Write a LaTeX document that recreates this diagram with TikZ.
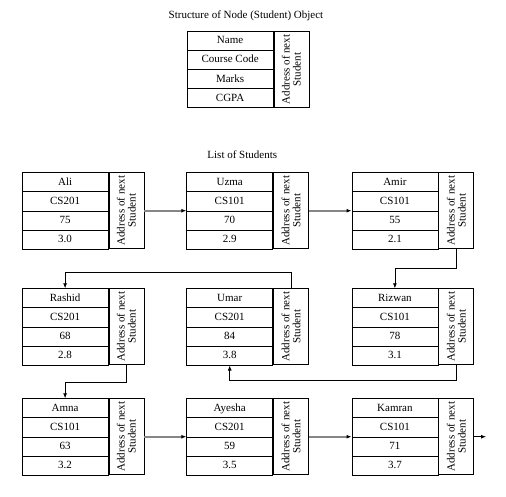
\documentclass[tikz,border=0pt]{standalone}
\usepackage{fontspec}
\setmainfont{Liberation Serif}
\usetikzlibrary{arrows,arrows.meta,shapes.multipart}
\tikzset{>=latex}
% one row of a record is about 19pt high
\newcommand{\rowstrut}{\rule[-6.3pt]{0pt}{18.3pt}}
\newcommand{\record}[4]{\rowstrut#1\nodepart{two}\rowstrut#2\nodepart{three}\rowstrut#3\nodepart{four}\rowstrut#4}

\begin{document}
\begin{tikzpicture}[x=1pt,y=1pt]
  % rec = fields of one student, ptr = address cell (rotated), link = next pointer
  \tikzstyle{every node}=[font=\fontsize{11}{11}\selectfont]
  \tikzstyle{rec}=[rectangle split, rectangle split parts=4, rectangle split draw splits,
    draw=black, line width=0.8pt, minimum width=86pt, inner xsep=0pt, inner ysep=0pt,
    rectangle split part align=center, anchor=north west]
  \tikzstyle{ptr}=[draw=black, line width=0.8pt, rotate=90, minimum width=76pt,
    minimum height=35pt, inner sep=0pt, align=center, anchor=north east]
  \tikzstyle{link}=[black, line width=0.8pt, -{Latex[length=5pt,width=4pt]}]
  \tikzstyle{thick link}=[draw=gray!95, line width=1.6pt, -{Latex[black,length=5pt,width=4pt]}]
  \useasboundingbox (0,0) rectangle (506,-496);

  \node (title) at (246,-16) {Structure of Node (Student) Object};
  \node[rec] (node) at (186.7,-31) {\record{Name}{Course Code}{Marks}{CGPA}};
  \node[ptr] (nodeP) at (node.north east) {Address of next\\Student};

  \node (list) at (242.3,-155) {List of Students};

  % first row
  \node[rec] (ali) at (21.7,-172.3) {\record{Ali}{CS201}{75}{3.0}};
  \node[ptr] (aliP) at (ali.north east) {Address of next\\Student};
  \node[rec] (uzma) at (186.3,-172.3) {\record{Uzma}{CS101}{70}{2.9}};
  \node[ptr] (uzmaP) at (uzma.north east) {Address of next\\Student};
  \node[rec] (amir) at (351.5,-172.3) {\record{Amir}{CS101}{55}{2.1}};
  \node[ptr] (amirP) at (amir.north east) {Address of next\\Student};

  % second row
  \node[rec] (rashid) at (21.7,-288.3) {\record{Rashid}{CS201}{68}{2.8}};
  \node[ptr] (rashidP) at (rashid.north east) {Address of next\\Student};
  \node[rec] (umar) at (186.3,-288.3) {\record{Umar}{CS201}{84}{3.8}};
  \node[ptr] (umarP) at (umar.north east) {Address of next\\Student};
  \node[rec] (rizwan) at (351.5,-288.3) {\record{Rizwan}{CS101}{78}{3.1}};
  \node[ptr] (rizwanP) at (rizwan.north east) {Address of next\\Student};

  % third row
  \node[rec] (amna) at (21.7,-398.3) {\record{Amna}{CS101}{63}{3.2}};
  \node[ptr] (amnaP) at (amna.north east) {Address of next\\Student};
  \node[rec] (ayesha) at (186.3,-398.3) {\record{Ayesha}{CS201}{59}{3.5}};
  \node[ptr] (ayeshaP) at (ayesha.north east) {Address of next\\Student};
  \node[rec] (kamran) at (351.5,-398.3) {\record{Kamran}{CS101}{71}{3.7}};
  \node[ptr] (kamranP) at (kamran.north east) {Address of next\\Student};
  \coordinate (tail) at (486,-436.3);

  % pointers
  \draw[thick link] (aliP.south) -- (aliP.south -| uzma.west);
  \draw[thick link] (uzmaP.south) -- (uzmaP.south -| amir.west);
  \draw[link] (amirP.west) -- ++(0,-19.5) -| (rizwan.north);
  \draw[link] (rizwanP.west) -- ++(0,-15.7) -| (umar.south);
  \draw[link] (umarP.east) -- ++(0,15.6) -| (rashid.north);
  \draw[link] (rashidP.west) -- ++(0,-17.4) -| (amna.north);
  \draw[thick link] (amnaP.south) -- (amnaP.south -| ayesha.west);
  \draw[thick link] (ayeshaP.south) -- (ayeshaP.south -| kamran.west);
  \draw[link] (kamranP.south) -- (kamranP.south -| tail);
\end{tikzpicture}
\end{document}
